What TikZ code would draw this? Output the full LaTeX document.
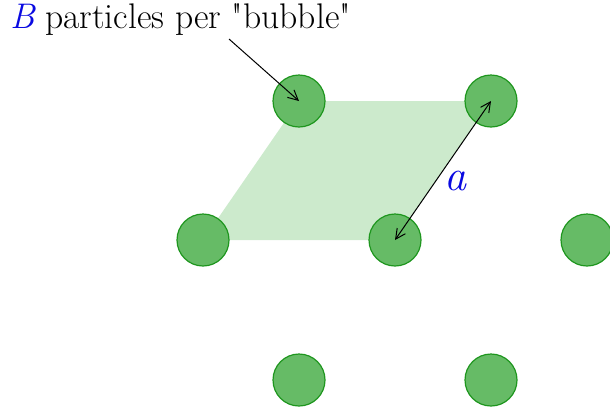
\documentclass[tikz,border=0pt]{standalone}
\usepackage{fontspec}
\usetikzlibrary{arrows.meta,backgrounds}
\definecolor{bubblefill}{RGB}{102,187,102}
\definecolor{bubbledraw}{RGB}{30,150,30}
\definecolor{cellfill}{RGB}{204,234,204}
\definecolor{labelblue}{RGB}{10,10,225}
\tikzset{
  bubble/.style ={circle, draw=bubbledraw, fill=bubblefill,
                  line width=0.6pt, minimum size=26pt, inner sep=0pt},
  txt/.style    ={font=\fontsize{17.8}{21}\selectfont, inner sep=0pt},
  arr/.style    ={-{Straight Barb[length=5pt,width=5pt]}, line width=0.5pt},
  darr/.style   ={{Straight Barb[length=5pt,width=5pt]}-{Straight Barb[length=5pt,width=5pt]},
                  line width=0.5pt},
}
\begin{document}
\begin{tikzpicture}[x=0.5pt,y=-0.5pt]
  \useasboundingbox (0,0) rectangle (610,409);
  \clip (0,0) rectangle (610,409);
  %% lattice of bubbles
  \node[bubble] (b1) at (299,101) {};
  \node[bubble] (b2) at (491,101) {};
  \node[bubble] (b3) at (203,240) {};
  \node[bubble] (b4) at (395,240) {};
  \node[bubble] (b5) at (587,240) {};
  \node[bubble] (b6) at (299,380) {};
  \node[bubble] (b7) at (491,380) {};
  \begin{scope}[on background layer]
    \fill[cellfill] (b1.center) -- (b2.center) -- (b4.center) -- (b3.center) -- cycle;
  \end{scope}
  %% labels
  \node[txt, anchor=base west] (lbl) at (10,28)
    {{\color{labelblue}\textit{B}}\hspace{4.5pt}particles per \textquotedbl bubble\textquotedbl};
  \coordinate (lblpt) at (229,39);
  \node[txt, text=labelblue, font=\fontsize{22}{26}\selectfont] (alab) at (456,181) {\textit{a}};
  \draw[arr] (lblpt) -- (b1.center);
  \draw[darr] (b4.center) -- (b2.center);
\end{tikzpicture}
\end{document}
